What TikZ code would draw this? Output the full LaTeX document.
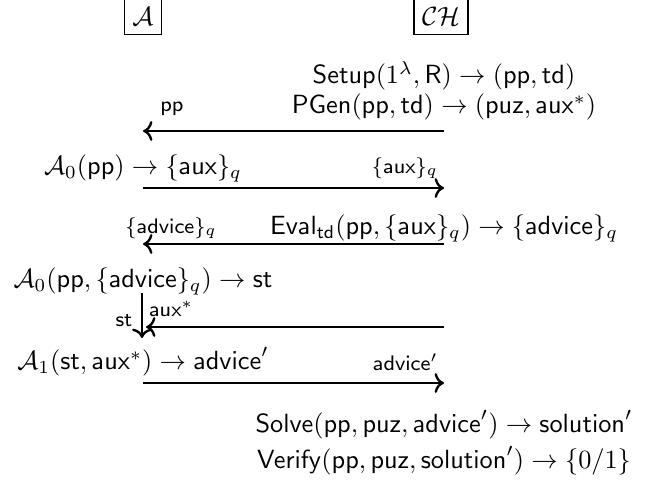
\documentclass[tikz,border=0pt]{standalone}
\usepackage{amsmath,amssymb}
\usetikzlibrary{positioning,arrows.meta}

\begin{document}
\begin{tikzpicture}[x=0.38pt, y=-0.38pt,
  party/.style={draw, semithick, inner sep=3pt, minimum height=13.3pt},
  msg/.style={->, line width=0.9pt},
  lb/.style={font=\footnotesize},
]
\useasboundingbox (0,0) rectangle (656,480);
% parties
\node[party] (A) at (143,17) {$\mathcal{A}$};
\node[party] (CH) at (441,17) {$\mathcal{CH}$};
\coordinate (la) at (143,0); \coordinate (lc) at (444,0);
% challenger: setup and puzzle generation
\node (setup) at (lc |- 0,76) {$\mathsf{Setup}(1^\lambda,\mathsf{R}) \rightarrow (\mathsf{pp},\mathsf{td})$};
\node (pgen) at (lc |- 0,107) {$\mathsf{PGen}(\mathsf{pp},\mathsf{td}) \rightarrow (\mathsf{puz},\mathsf{aux}^*)$};
\coordinate (c1) at (lc |- 0,131); \coordinate (a1) at (la |- 0,131);
\draw[msg] (c1) -- (a1);
\node[lb] (pp) at (172,109) {$\mathsf{pp}$};
% A0 asks for advice
\node (q) at (la |- 0,168) {$\mathcal{A}_0(\mathsf{pp}) \rightarrow \{\mathsf{aux}\}_q$};
\node[lb, anchor=east] (auxq) at (447,168) {$\{\mathsf{aux}\}_q$};
\coordinate (a2) at (la |- 0,188); \coordinate (c2) at (lc |- 0,188);
\draw[msg] (a2) -- (c2);
% challenger evaluates
\node (eval) at (lc |- 0,228) {$\mathsf{Eval}_{\mathsf{td}}(\mathsf{pp},\{\mathsf{aux}\}_q) \rightarrow \{\mathsf{advice}\}_q$};
\node[lb] (advq) at (171,228) {$\{\mathsf{advice}\}_q$};
\coordinate (c3) at (lc |- 0,244); \coordinate (a3) at (la |- 0,244);
\draw[msg] (c3) -- (a3);
% A0 outputs state
\node (st) at (la |- 0,281) {$\mathcal{A}_0(\mathsf{pp},\{\mathsf{advice}\}_q) \rightarrow \mathsf{st}$};
\coordinate (a4) at (142,293); \coordinate (a5) at (142,338);
\draw[msg] (a4) -- (a5);
\node[lb] (stl) at (124,320) {$\mathsf{st}$};
\coordinate (c4) at (lc |- 0,327); \coordinate (a6) at (146,327);
\draw[msg] (c4) -- (a6);
\node[lb] (auxl) at (171,309) {$\mathsf{aux}^*$};
% A1 answers
\node (ans) at (la |- 0,362) {$\mathcal{A}_1(\mathsf{st},\mathsf{aux}^*) \rightarrow \mathsf{advice}'$};
\node[lb, anchor=east] (advp) at (447,362) {$\mathsf{advice}'$};
\coordinate (a7) at (la |- 0,383); \coordinate (c5) at (lc |- 0,383);
\draw[msg] (a7) -- (c5);
% challenger solves and verifies
\node (solve) at (lc |- 0,425) {$\mathsf{Solve}(\mathsf{pp},\mathsf{puz},\mathsf{advice}') \rightarrow \mathsf{solution}'$};
\node (verify) at (lc |- 0,461) {$\mathsf{Verify}(\mathsf{pp},\mathsf{puz},\mathsf{solution}') \rightarrow \{0/1\}$};
\end{tikzpicture}
\end{document}
